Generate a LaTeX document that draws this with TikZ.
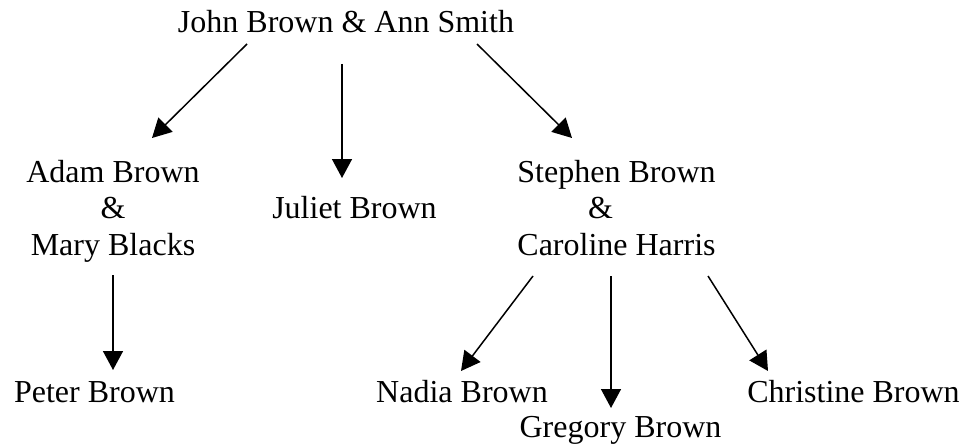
\documentclass[tikz,border=0pt]{standalone}
\usepackage{fontspec}
\setmainfont{Liberation Serif}
\usetikzlibrary{arrows.meta}
\begin{document}
\begin{tikzpicture}[x=1pt,y=-1pt,
  person/.style={font=\fontsize{32}{36.5}\selectfont, inner sep=0pt, anchor=base, align=center},
  link/.style={line width=1.5pt, -{Triangle[length=19pt,width=20pt]}}]
\useasboundingbox (0,0) rectangle (966,444);
% people (multi-line nodes: base anchor is the last line's baseline)
\node[person] (john) at (346,33) {John Brown \& Ann Smith};
\node[person] (adam) at (113,255) {Adam Brown\\\&\\Mary Blacks};
\node[person] (juliet) at (354.5,218) {Juliet Brown};
\node[person] (stephen) at (616.5,255) {Stephen Brown\\\&\rule{1em}{0pt}\\Caroline Harris};
\node[person] (peter) at (94.5,402) {Peter Brown};
\node[person] (nadia) at (462,402) {Nadia Brown};
\node[person] (gregory) at (620.5,437) {Gregory Brown};
\node[person] (christine) at (853.5,402) {Christine Brown};
% connector ends
\coordinate (j1) at (247,44);  \coordinate (ta) at (152,138);
\coordinate (j2) at (342,64);  \coordinate (tj) at (342,178);
\coordinate (j3) at (477,44);  \coordinate (ts) at (572,138);
\coordinate (a1) at (113,275); \coordinate (tp) at (113,370);
\coordinate (s1) at (533,276); \coordinate (tn) at (461,371);
\coordinate (s2) at (611,276); \coordinate (tg) at (611,408);
\coordinate (s3) at (708,276); \coordinate (tc) at (768,371);
% connectors
\draw[link] (j1) -- (ta);
\draw[link] (j2) -- (tj);
\draw[link] (j3) -- (ts);
\draw[link] (a1) -- (tp);
\draw[link] (s1) -- (tn);
\draw[link] (s2) -- (tg);
\draw[link] (s3) -- (tc);
\end{tikzpicture}
\end{document}
